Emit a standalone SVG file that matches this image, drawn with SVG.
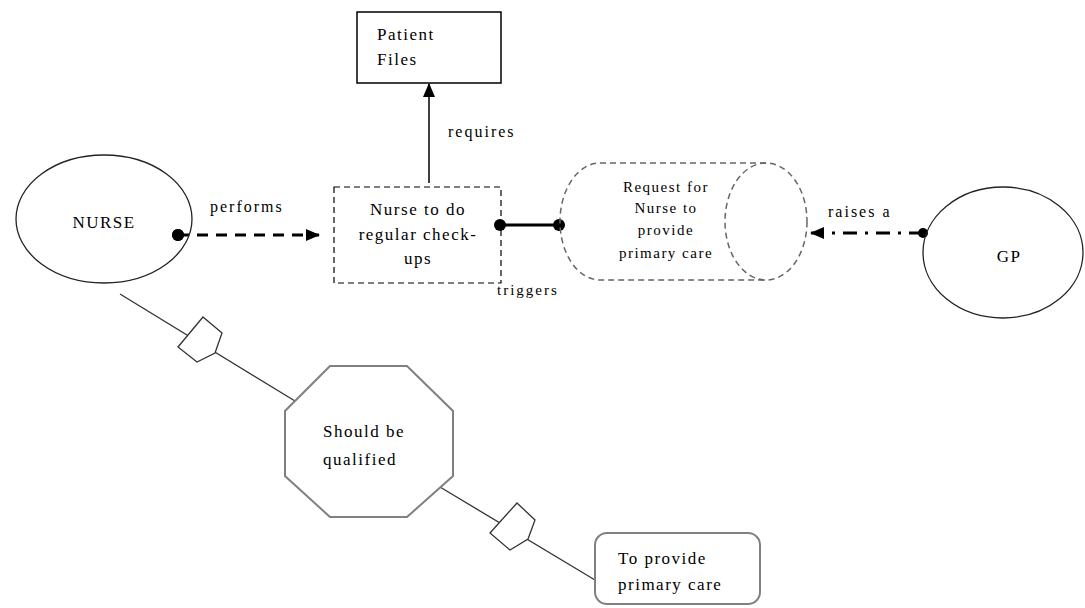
<svg xmlns="http://www.w3.org/2000/svg" width="1085" height="608" viewBox="0 0 1085 608">
<style>
text{font-family:"Liberation Serif","Times New Roman",serif;fill:#000}
.n{font-size:17px;letter-spacing:1.5px}
.s{font-size:15px;letter-spacing:1.5px}
.l{font-size:16px;letter-spacing:2px}
.c{text-anchor:middle}
.thin{fill:none;stroke:#222;stroke-width:1.3}
.gray{fill:#fff;stroke:#808080;stroke-width:2}
.link{stroke:#333;stroke-width:1.3;fill:none}
.dash{fill:none;stroke:#666;stroke-width:1.5;stroke-dasharray:6,4}
</style>
<defs>
<marker id="ah" markerWidth="14" markerHeight="12" refX="13" refY="6" orient="auto" markerUnits="userSpaceOnUse">
<path d="M0,0 L14,6 L0,12 Z" fill="#000"/>
</marker>
</defs>
<rect width="1085" height="608" fill="#fff"/>

<g id="connectors">
<line x1="429" y1="183" x2="429" y2="84" stroke="#000" stroke-width="1.5" marker-end="url(#ah)"/>
<line x1="178" y1="235" x2="319" y2="235" stroke="#000" stroke-width="3" stroke-dasharray="11,8" marker-end="url(#ah)"/>
<circle cx="178" cy="235" r="6" fill="#000"/>
<line x1="500" y1="225" x2="559" y2="225" stroke="#000" stroke-width="3"/>
<circle cx="500" cy="225" r="6" fill="#000"/>
<circle cx="559" cy="225" r="6" fill="#000"/>
<line x1="923" y1="233" x2="811" y2="233" stroke="#000" stroke-width="3" stroke-dasharray="14,8,3,8" marker-end="url(#ah)"/>
<circle cx="923" cy="233" r="5" fill="#000"/>
<line class="link" x1="120" y1="294" x2="295" y2="401"/>
<line class="link" x1="440" y1="487" x2="595" y2="580"/>
<polygon class="link" points="203,317 222,333 215,353 197,362 178,347" style="fill:#fff"/>
<polygon class="link" points="517,503 535,520 528,539 510,550 490,533" style="fill:#fff"/>
<text class="l" x="448" y="137">requires</text>
<text class="l" x="210" y="212">performs</text>
<text class="s" x="497" y="295" style="letter-spacing:2px">triggers</text>
<text class="l" x="828" y="217">raises a</text>
</g>

<g id="patient-files">
<rect x="357" y="12" width="144" height="71" fill="#fff" stroke="#000" stroke-width="1.5"/>
<text class="n" x="377" y="40">Patient</text>
<text class="n" x="377" y="65">Files</text>
</g>

<g id="nurse">
<ellipse class="thin" cx="104" cy="219" rx="88" ry="64"/>
<text class="n c" x="104" y="228">NURSE</text>
<circle cx="178" cy="235" r="6" fill="#000"/>
</g>

<g id="nurse-checkups">
<rect x="334" y="187" width="167" height="96" fill="none" stroke="#000" stroke-width="1.2" stroke-dasharray="6,4"/>
<text class="n c" x="418" y="215">Nurse to do</text>
<text class="n c" x="418" y="240">regular check-</text>
<text class="n c" x="418" y="264">ups</text>
</g>

<g id="request">
<path class="dash" d="M766,163 L600,163 A40,58.5 0 0 0 600,280 L766,280"/>
<ellipse class="dash" cx="766" cy="221.5" rx="41" ry="58.5"/>
<text class="s c" x="666" y="192">Request for</text>
<text class="s c" x="666" y="213">Nurse to</text>
<text class="s c" x="666" y="235">provide</text>
<text class="s c" x="666" y="258">primary care</text>
</g>

<g id="gp">
<ellipse class="thin" cx="1003" cy="252.5" rx="80" ry="65.5"/>
<text class="n c" x="1009" y="262">GP</text>
</g>

<g id="qualified">
<polygon class="gray" points="330,366 407,366 453,411 453,476 407,517 330,517 285,476 285,411"/>
<text class="n" x="323" y="437">Should be</text>
<text class="n" x="323" y="465">qualified</text>
</g>

<g id="primary-care">
<rect class="gray" x="595" y="533" width="165" height="71" rx="12" ry="12"/>
<text class="n" x="618" y="564">To provide</text>
<text class="n" x="618" y="590">primary care</text>
</g>
</svg>
